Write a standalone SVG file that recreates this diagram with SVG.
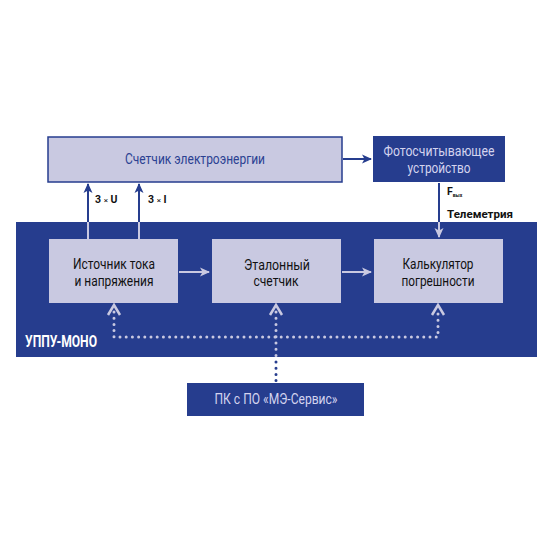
<svg xmlns="http://www.w3.org/2000/svg" width="553" height="553" viewBox="0 0 553 553">
<defs>
<style>
.dark{fill:#263d8e}
.light{fill:#c9c9e1}
.t{font-family:Roboto,"Liberation Sans",sans-serif;font-size:14px;text-anchor:middle}
.lbl{font-family:Roboto,"Liberation Sans",sans-serif;font-size:10.5px;font-weight:bold;fill:#111}
.ld{stroke:#263d8e;stroke-width:2;fill:none}
.ll{stroke:#c9c9e1;stroke-width:2;fill:none}
.dd{stroke:#263d8e;stroke-width:3;stroke-linecap:round;stroke-dasharray:0 6.2;fill:none}
.dl{stroke:#c9c9e1;stroke-width:3;stroke-linecap:round;stroke-dasharray:0 6.2;fill:none}
</style>
<marker id="ad" markerWidth="10" markerHeight="10" refX="9" refY="5" orient="auto" markerUnits="userSpaceOnUse"><path d="M0,0.5 L10,5 L0,9.5 L2.5,5 Z" fill="#263d8e"/></marker>
<marker id="al" markerWidth="10" markerHeight="10" refX="9" refY="5" orient="auto" markerUnits="userSpaceOnUse"><path d="M0,0.5 L10,5 L0,9.5 L2.5,5 Z" fill="#c9c9e1"/></marker>
</defs>
<rect width="553" height="553" fill="#fff"/>
<g id="uppu">
<rect class="dark" x="16" y="222" width="521" height="135"/>
<text x="25" y="347" font-family="Roboto,'Liberation Sans',sans-serif" font-size="16" font-weight="bold" fill="#fff" textLength="72" lengthAdjust="spacingAndGlyphs">УППУ-МОНО</text>
</g>
<g id="connectors">
<line class="ld" x1="88" y1="222" x2="88" y2="184" marker-end="url(#ad)"/>
<line class="ll" x1="88" y1="239" x2="88" y2="222"/>
<line class="ld" x1="139" y1="222" x2="139" y2="184" marker-end="url(#ad)"/>
<line class="ll" x1="139" y1="239" x2="139" y2="222"/>
<line class="ld" x1="343" y1="159" x2="371" y2="159" marker-end="url(#ad)"/>
<line class="ld" x1="439" y1="183" x2="439" y2="222"/>
<line class="ll" x1="439" y1="222" x2="439" y2="237" marker-end="url(#al)"/>
<line class="ll" x1="179" y1="272" x2="209" y2="272" marker-end="url(#al)"/>
<line class="ll" x1="342" y1="272" x2="371" y2="272" marker-end="url(#al)"/>
<path class="dl" d="M114,312 V337 H438 V312"/>
<path class="dl" d="M276,312 V356"/>
<path class="dd" d="M276,362 V381"/>
<path d="M108,315 L114,305 L120,315" stroke="#c9c9e1" stroke-width="2.5" fill="none"/>
<path d="M270,315 L276,305 L282,315" stroke="#c9c9e1" stroke-width="2.5" fill="none"/>
<path d="M432,315 L438,305 L444,315" stroke="#c9c9e1" stroke-width="2.5" fill="none"/>
<text class="lbl" x="95" y="203">3 <tspan font-weight="normal" font-size="8">×</tspan> U</text>
<text class="lbl" x="148" y="203">3 <tspan font-weight="normal" font-size="8">×</tspan> I</text>
<text class="lbl" x="447" y="195">F<tspan font-size="5" dy="2">вых</tspan></text>
<text class="lbl" x="447" y="218" textLength="66" lengthAdjust="spacingAndGlyphs">Телеметрия</text>
</g>
<g id="meter">
<rect x="48" y="137" width="294" height="45" fill="#c9c9e1" stroke="#263d8e" stroke-width="1.5"/>
<text class="t" x="195" y="164" fill="#2b4192" textLength="140" lengthAdjust="spacingAndGlyphs">Счетчик электроэнергии</text>
</g>
<g id="photo">
<rect class="dark" x="373" y="136" width="132" height="46"/>
<text class="t" x="439" y="156" fill="#d4d4ee" textLength="111" lengthAdjust="spacingAndGlyphs">Фотосчитывающее</text>
<text class="t" x="439" y="173" fill="#d4d4ee" textLength="63" lengthAdjust="spacingAndGlyphs">устройство</text>
</g>
<g id="source">
<rect class="light" x="49" y="239" width="129" height="64"/>
<text class="t" x="114" y="269" fill="#111" textLength="82" lengthAdjust="spacingAndGlyphs">Источник тока</text>
<text class="t" x="114" y="286" fill="#111" textLength="79" lengthAdjust="spacingAndGlyphs">и напряжения</text>
</g>
<g id="reference">
<rect class="light" x="212" y="239" width="129" height="64"/>
<text class="t" x="277" y="270" fill="#111" textLength="66" lengthAdjust="spacingAndGlyphs">Эталонный</text>
<text class="t" x="276" y="286" fill="#111" textLength="45" lengthAdjust="spacingAndGlyphs">счетчик</text>
</g>
<g id="calc">
<rect class="light" x="374" y="239" width="129" height="64"/>
<text class="t" x="438" y="269" fill="#111" textLength="71" lengthAdjust="spacingAndGlyphs">Калькулятор</text>
<text class="t" x="438" y="286" fill="#111" textLength="73" lengthAdjust="spacingAndGlyphs">погрешности</text>
</g>
<g id="pc">
<rect class="dark" x="187" y="383" width="177" height="33"/>
<text class="t" x="276" y="404" fill="#d4d4ee" textLength="123" lengthAdjust="spacingAndGlyphs">ПК с ПО «МЭ-Сервис»</text>
</g>
</svg>
